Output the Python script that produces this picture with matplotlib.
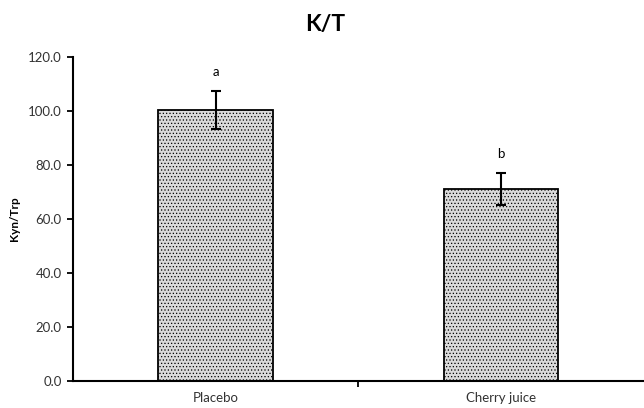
import numpy as np
import matplotlib.pyplot as plt

# K/T ratio by treatment
groups = ["Placebo", "Cherry juice"]
means = [100.4, 71.1]
errs = [7.0, 5.8]
letters = ["a", "b"]
yticks = [0, 20, 40, 60, 80, 100, 120]

plt.rcParams['font.family'] = ['Lato', 'DejaVu Sans']
plt.rcParams['hatch.color'] = '#bdbdbd'
plt.rcParams['hatch.linewidth'] = 0.5

fig = plt.figure(figsize=(6.44, 4.08), dpi=100)
ax = fig.add_axes([0.113, 0.066, 0.887, 0.794])

x = np.arange(len(groups))
ax.bar(x, means, width=0.40, color='#dadada', edgecolor='black',
       linewidth=1.3, hatch='.....', zorder=2)
ax.errorbar(x, means, yerr=errs, fmt='none', ecolor='black',
            elinewidth=1.5, capsize=3.5, capthick=1.5, zorder=3)
for xi, m, e, l in zip(x, means, errs, letters):
    ax.text(xi, m + e + 5, l, ha='center', va='bottom', fontsize=9.5)

ax.set_xlim(-0.5, 1.5)
ax.set_ylim(0, 120)
ax.set_yticks(yticks)
ax.set_yticklabels([f"{v:.1f}" for v in yticks], fontsize=9.5, color='#333333')
ax.set_xticks(x)
ax.set_xticklabels(groups, fontsize=9.5, color='#333333')
ax.tick_params(axis='x', length=0, pad=8)
ax.set_xticks([0.5], minor=True)
ax.tick_params(axis='x', which='minor', length=4, width=1.3, direction='out')
ax.tick_params(axis='y', length=4, width=1.3, direction='out', pad=4)

for s in ['top', 'right']:
    ax.spines[s].set_visible(False)
for s in ['left', 'bottom']:
    ax.spines[s].set_linewidth(1.5)

ax.set_ylabel("Kyn/Trp", fontsize=8.5, fontweight='bold', labelpad=6)
fig.text(0.505, 0.94, "K/T", ha='center', va='center',
         fontsize=16.5, fontweight='bold')

fig.savefig("out.png", dpi=100)
